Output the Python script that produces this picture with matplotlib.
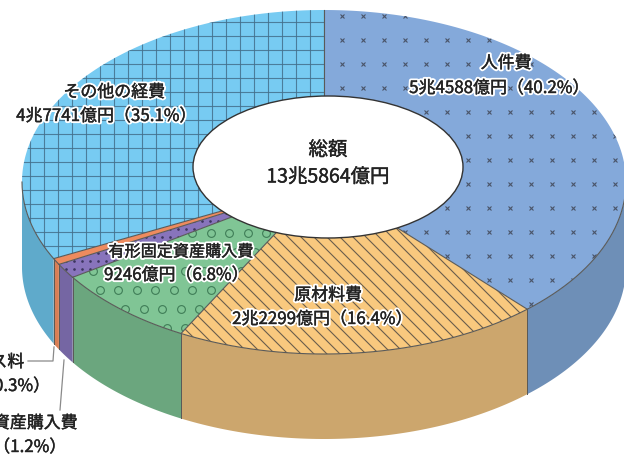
import numpy as np
import matplotlib.pyplot as plt
import matplotlib.patheffects as pe
from matplotlib.patches import Polygon, Ellipse

plt.rcParams['font.family'] = ['Noto Sans CJK JP', 'DejaVu Sans']

# data, clockwise from 12 o'clock
names = ['人件費', '原材料費', '有形固定資産購入費', '無形固定資産購入費', 'リース料', 'その他の経費']
amounts = ['5兆4588億円', '2兆2299億円', '9246億円', '', '', '4兆7741億円']
percents = [40.2, 16.4, 6.8, 1.2, 0.3, 35.1]
# wedge sizes as they are drawn in the picture (not to scale with the printed %)
drawn_shares = [38.25, 19.6, 7.8, 1.4, 0.6, 32.35]
total_name = '総額'
total_amount = '13兆5864億円'

top_colors = ['#84a9da', '#f9c97e', '#80c595', '#8874bc', '#ee8b5e', '#77cbf2']
side_colors = ['#6e8fb7', '#cca66d', '#6ba67e', '#7566a3', '#d97f55', '#5faacb']

# pie geometry in pixels
cx, cy, rx, ry, depth = 324, 182, 302, 172, 85
edge = '#5a5a58'

fig = plt.figure(figsize=(6.24, 4.54), dpi=100)
ax = fig.add_axes([0, 0, 1, 1])
ax.set_xlim(0, 624)
ax.set_ylim(454, 0)
ax.axis('off')


def rim(theta, drop=0):
    t = np.radians(theta)
    return cx + rx*np.sin(t), cy - ry*np.cos(t) + drop


edges = np.concatenate([[0], np.cumsum(drawn_shares)]) * 3.6
edges[-1] = 360

# side walls, only the front half of the pie shows one
for i in range(len(drawn_shares)):
    a = max(edges[i], 90)
    b = min(edges[i+1], 270)
    if b <= a:
        continue
    th = np.linspace(a, b, 80)
    x, y = rim(th)
    x2, y2 = rim(th[::-1], depth)
    ax.add_patch(Polygon(np.c_[np.r_[x, x2], np.r_[y, y2]], fc=side_colors[i], ec='none', zorder=1))
    for t in [a, b]:
        if 90 < t < 270:
            ax.plot(*zip(rim(t), rim(t, depth)), color=edge, lw=0.7, zorder=2)

# top wedges
wedges = []
for i in range(len(drawn_shares)):
    th = np.linspace(edges[i], edges[i+1], 150)
    x, y = rim(th)
    poly = Polygon(np.c_[np.r_[cx, x], np.r_[cy, y]], fc=top_colors[i], ec='none', zorder=3)
    ax.add_patch(poly)
    wedges.append(poly)

# fill patterns, each one clipped to its wedge
# 人件費: small crosses
gx, gy = np.meshgrid(np.arange(342, 640, 21), np.arange(16, 320, 24))
m, = ax.plot(gx.ravel(), gy.ravel(), 'x', color='#4a5468', ms=3.2, mew=0.8, zorder=4)
m.set_clip_path(wedges[0])

# 原材料費: diagonal lines
for c in np.arange(-500, 300, 13):
    l, = ax.plot([150, 560], [300 + c, 710 + c], color='#6a5e4c', lw=0.8, zorder=4)
    l.set_clip_path(wedges[1])

# 有形固定資産購入費: open circles, rows shifted against each other
for row, y0 in enumerate(np.arange(214, 350, 19)):
    xs = np.arange(74 + 7*(row % 3), 300, 18.5)
    m, = ax.plot(xs, np.full(xs.shape, y0), 'o', mfc='none', mec='#3f7d57', ms=5.6, mew=0.8, zorder=4)
    m.set_clip_path(wedges[2])

# 無形固定資産購入費: fine dots
gx, gy = np.meshgrid(np.arange(50, 240, 8), np.arange(205, 285, 8))
m, = ax.plot(gx.ravel(), gy.ravel(), '.', color='#3d3560', ms=1.8, zorder=4)
m.set_clip_path(wedges[3])

# その他の経費: square grid
for v in np.arange(2, 330, 14):
    l, = ax.plot([v, v], [0, 300], color='#44708c', lw=0.8, alpha=0.85, zorder=4)
    l.set_clip_path(wedges[5])
for h in np.arange(8, 300, 14):
    l, = ax.plot([0, 330], [h, h], color='#44708c', lw=0.8, alpha=0.85, zorder=4)
    l.set_clip_path(wedges[5])

# outlines
for t in edges[:-1]:
    ax.plot(*zip((cx, cy), rim(t)), color=edge, lw=0.8, zorder=5)
th = np.linspace(90, 270, 200)
ax.plot(*rim(th), color=edge, lw=0.8, zorder=5)

# hole in the middle
ax.add_patch(Ellipse((328, 167), 270, 142, fc='white', ec='#333333', lw=1, zorder=6))

# leader lines
ax.plot([28, 53, 54], [361, 361, 347], color='#8a8a8a', lw=0.9, zorder=7)
ax.plot([60, 64], [410, 360], color='#8a8a8a', lw=0.9, zorder=7)


def label(x, y, s, ha='center', size=12.2):
    t = ax.text(x, y, s, ha=ha, va='center', fontsize=size, color='#222222', zorder=8)
    t.set_path_effects([pe.Stroke(linewidth=3, foreground='white'),
                        pe.Stroke(linewidth=0.3, foreground='#222222'),
                        pe.Normal()])


def line2(i):
    return f'{amounts[i]}（{percents[i]}%）'


label(506, 63, names[0])
label(499, 88, line2(0))
label(328, 295, names[1])
label(322, 319, line2(1))
label(181, 252, names[2], size=11.6)
label(104, 275, line2(2), ha='left')
label(77, 423, names[3], ha='right')
label(66, 447, line2(3), ha='right')
label(24, 362, names[4], ha='right')
label(50, 386, line2(4), ha='right')
label(114, 92, names[5])
label(106, 116, line2(5))
label(328, 150, total_name, size=14)
label(328, 177, total_amount, size=14)

fig.savefig('out.png', dpi=100)
